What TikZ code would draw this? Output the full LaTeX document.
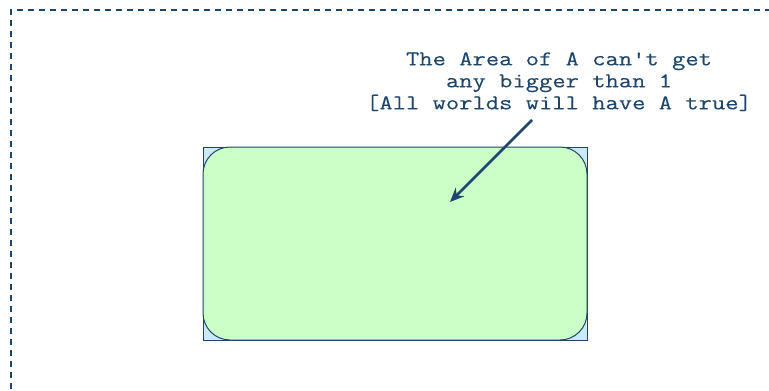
\documentclass[tikz,border=0pt]{standalone}
\usepackage{fontspec}
\setmonofont[FakeStretch=1.23, FakeBold=0.15]{Latin Modern Mono}
\usetikzlibrary{arrows.meta}

\definecolor{inkblue}{RGB}{28,70,108}
\definecolor{worldblue}{RGB}{204,232,255}
\definecolor{areagreen}{RGB}{204,255,200}

\tikzset{
  frame/.style={draw=inkblue, line width=2.4pt, dash pattern=on 6pt off 5pt},
  worldbox/.style={draw=inkblue, fill=worldblue, line width=1pt, minimum width=384pt, minimum height=193pt, inner sep=0pt},
  areabox/.style={draw=inkblue, fill=areagreen, line width=1pt, rounded corners=27pt, minimum width=384pt, minimum height=193pt, inner sep=0pt},
  note/.style={inkblue, align=center, inner sep=0pt, font=\ttfamily\fontsize{21}{22}\selectfont},
  pointer/.style={inkblue, line width=2.5pt, -{Stealth[length=14pt, width=12pt]}}
}

\begin{document}
\begin{tikzpicture}[x=1pt, y=-1pt]
\useasboundingbox (0,0) rectangle (769,391);

% dashed frame
\coordinate (corner) at (11,10);
\draw[frame] (11,400) -- (corner) -- (780,10);

% worlds and area of A
\node[worldbox] (world) at (395,243.5) {};
\node[areabox] (areaA) at (world.center) {};

% label
\node[note, anchor=north] (areanote) at (559,52) {The Area of A can't get\\any bigger than 1\\{[}All worlds will have A true{]}};

% arrow
\coordinate (tail) at (532,120);
\coordinate (head) at (450,202);
\draw[pointer] (tail) -- (head);

\end{tikzpicture}
\end{document}
